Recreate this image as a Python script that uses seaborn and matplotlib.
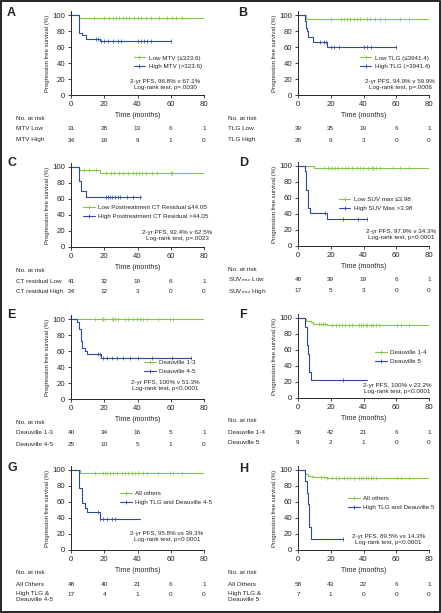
import numpy as np
import matplotlib
matplotlib.use('Agg')
import matplotlib.pyplot as plt
import seaborn as sns
from matplotlib.lines import Line2D
from matplotlib.patches import Rectangle

sns.set_style('ticks')
plt.rcParams['font.family'] = ['Liberation Sans', 'DejaVu Sans']
plt.rcParams['mathtext.fontset'] = 'custom'
plt.rcParams['mathtext.rm'] = 'Liberation Sans'

GREEN = '#80c846'
BLUE = '#2d4a9c'
SMALL = 4.5

risk_times = [0, 20, 40, 60, 80]

# A - MTV
mtv_low_t = [0, 5, 80]
mtv_low_s = [100, 96.8, 96.8]
mtv_low_cens = [14, 20, 23, 25, 27, 29, 31, 33, 35, 38, 40, 42, 45, 48, 53, 58, 61, 63, 67]
mtv_high_t = [0, 5, 6.4, 9, 17.5, 60]
mtv_high_s = [100, 77, 75, 70.6, 67.1, 67.1]
mtv_high_cens = [15, 16, 18, 20, 22, 25, 28, 30, 40, 42, 44, 46, 48, 60]
mtv_risk_low = [31, 28, 13, 6, 1]
mtv_risk_high = [34, 16, 9, 1, 0]

# B - TLG
tlg_low_t = [0, 5, 80]
tlg_low_s = [100, 94.9, 94.9]
tlg_low_cens = [20, 26, 28, 30, 32, 34, 36, 38, 42, 44, 47, 50, 53, 62, 68]
tlg_high_t = [0, 4.5, 5, 5.5, 6, 9, 18, 60]
tlg_high_s = [100, 92, 84, 80, 73, 66, 59.9, 59.9]
tlg_high_cens = [13.6, 15.6, 17.3, 20, 22, 25, 40, 42, 44.5, 60]
tlg_risk_low = [39, 35, 19, 6, 1]
tlg_risk_high = [26, 9, 3, 0, 0]

# C - CT residual
ct_low_t = [0, 5, 17.5, 80]
ct_low_s = [100, 96, 92.4, 92.4]
ct_low_cens = [8, 11, 15, 21, 24, 26, 29, 31, 34, 37, 39, 41, 43, 45, 49, 52, 60, 61]
ct_high_t = [0, 5, 6, 9, 42]
ct_high_s = [100, 83, 70, 62.5, 62.5]
ct_high_cens = [21, 22.5, 23.5, 24.5, 26.5, 28, 29.5, 33.5, 37.5, 41.5]
ct_risk_low = [41, 32, 19, 6, 1]
ct_risk_high = [24, 12, 3, 0, 0]

# D - SUVmax
suv_low_t = [0, 9.5, 80]
suv_low_s = [100, 97.9, 97.9]
suv_low_cens = [15.6, 18.6, 19.6, 20.6, 22.7, 24.7, 26.7, 28.7, 30.8, 32.8, 35.8, 37.8,
                39.9, 42.9, 44.9, 45.9, 47.9, 50, 58, 62, 68]
suv_high_t = [0, 4, 5, 6, 7.5, 18, 42]
suv_high_s = [100, 94, 70, 47, 41, 34.3, 34.3]
suv_high_cens = [16.6, 27.7, 36.8, 42]
suv_risk_low = [48, 39, 19, 6, 1]
suv_risk_high = [17, 5, 3, 0, 0]

# E - Deauville 1-3 vs 4-5
d13_t = [0, 80]
d13_s = [100, 100]
d13_cens = [14.4, 18.4, 19.4, 20.4, 24.4, 25.5, 26.5, 28.5, 32.5, 34.5, 37.5, 39.5, 41.5,
            43.5, 45.5, 52.5, 59.5, 61.5]
d45_t = [0, 3.8, 5, 5.8, 6.4, 8.4, 9.4, 18, 72]
d45_s = [100, 96, 88, 72, 64, 60, 56, 51.3, 51.3]
d45_cens = [16.4, 17.4, 19.4, 21.4, 24.4, 27.5, 31.5, 35.5, 40.5, 48.5, 60.5, 72]
d13_risk = [40, 34, 16, 5, 1]
d45_risk = [25, 10, 5, 1, 0]

# F - Deauville 1-4 vs 5
d14_t = [0, 4, 5, 8, 9, 18, 80]
d14_s = [100, 98.2, 96.4, 94.6, 92.8, 90.9, 90.9]
d14_cens = [13, 14, 15, 16.6, 21, 23, 25, 27, 29, 31, 33, 37.4, 38.4, 39.4, 41.4, 42.4,
            44.5, 45.5, 47.5, 49.5, 60.7, 62.7, 67.8]
d5_t = [0, 4.5, 5.3, 5.9, 6.5, 8.1, 42]
d5_s = [100, 89, 66, 55, 33, 22.2, 22.2]
d5_cens = [27.2]
d14_risk = [56, 42, 21, 6, 1]
d5_risk = [9, 2, 1, 0, 0]

# G - all others vs high TLG & Deauville 4-5
g_other_t = [0, 5.4, 80]
g_other_s = [100, 95.8, 95.8]
g_other_cens = [14.4, 19.4, 20.4, 21.4, 23.4, 25.5, 27.5, 30.5, 32.5, 34.5, 36.5, 38.5,
                40.5, 43.5, 45.5, 52.5, 59.5, 61.5, 66.5]
g_high_t = [0, 5, 6.4, 8.4, 9.4, 17.4, 41.5]
g_high_s = [100, 77, 58.8, 53, 47, 39.3, 39.3]
g_high_cens = [16.4, 17.4, 19.4, 21.4, 24.4, 26.5]
g_risk_other = [48, 40, 21, 6, 1]
g_risk_high = [17, 4, 1, 0, 0]

# H - all others vs high TLG & Deauville 5
h_other_t = [0, 4.5, 5.9, 9, 17, 80]
h_other_s = [100, 95, 93, 91.6, 89.5, 89.5]
h_other_cens = [14, 16, 17.5, 21, 23, 25, 28, 30, 32, 34, 37.5, 38.5, 39.5, 41.5, 43,
                44.5, 45.5, 47.5, 60.7, 62.7, 67.8]
h_high_t = [0, 4.5, 5.3, 5.9, 6.5, 7.9, 27.2]
h_high_s = [100, 86, 71, 57, 28.6, 14.3, 14.3]
h_high_cens = [27.2]
h_risk_other = [58, 43, 22, 6, 1]
h_risk_high = [7, 1, 0, 0, 0]

W, H = 441, 613
fig = plt.figure(figsize=(W / 100, H / 100), dpi=100)


def px_box(x0, bottom, w, h=84):
    return [x0 / W, 1 - bottom / H, w / W, h / H]


def step_value(t, s, x):
    i = np.searchsorted(t, x, side='right') - 1
    return np.asarray(s)[i]


def curve(ax, t, s, cens, color):
    sns.lineplot(x=t, y=s, drawstyle='steps-post', color=color, lw=0.8,
                 estimator=None, ax=ax)
    cy = [step_value(t, s, c) for c in cens]
    sns.scatterplot(x=cens, y=cy, marker='|', s=7, color=color, linewidth=0.5, ax=ax)


def panel(letter, col_x, width, bottom, low, high, labels, leg_xy, note, note_xy,
          risk_labels, risk_low, risk_high, letter_xy):
    ax = fig.add_axes(px_box(col_x, bottom, width))
    curve(ax, *low, GREEN)
    curve(ax, *high, BLUE)
    ax.set_xlim(0, 80)
    ax.set_ylim(0, 105)
    ax.set_xticks(risk_times)
    ax.set_yticks([0, 20, 40, 60, 80, 100])
    ax.tick_params(labelsize=5.6, length=2.5, width=0.6, pad=1.5)
    for sp in ['top', 'right']:
        ax.spines[sp].set_visible(False)
    for sp in ['left', 'bottom']:
        ax.spines[sp].set_linewidth(0.7)
    ax.set_ylabel('Progression free survival (%)', fontsize=4.3)
    ax.yaxis.set_label_coords(-21 / width, 0.5)
    ax.set_xlabel('Time (months)', fontsize=5)
    ax.xaxis.set_label_coords(0.5, -17 / 84)

    handles = [Line2D([], [], color=GREEN, lw=0.8, marker='|', ms=3, mew=0.6),
               Line2D([], [], color=BLUE, lw=0.8, marker='|', ms=3, mew=0.6)]
    ax.legend(handles, labels, loc='center left', bbox_to_anchor=leg_xy, frameon=False,
              fontsize=SMALL, handlelength=1.9, handletextpad=0.5, labelspacing=0.55,
              borderpad=0, borderaxespad=0)
    ax.text(note_xy[0], note_xy[1], note, transform=ax.transAxes, ha='center',
            va='center', fontsize=SMALL, linespacing=1.25, multialignment='center')

    fig.text(letter_xy[0] / W, 1 - letter_xy[1] / H, letter, fontsize=9,
             fontweight='bold', ha='left', va='center')

    lab_x = 16 if col_x < 200 else 228
    fig.text(lab_x / W, 1 - (bottom + 23) / H, 'No. at risk', fontsize=4.6,
             ha='left', va='center')
    for k, (lab, vals) in enumerate(zip(risk_labels, [risk_low, risk_high])):
        y = bottom + 34 + 11 * k
        if '\n' in lab:
            fig.text(lab_x / W, 1 - (y - 3.5) / H, lab, fontsize=4.6, ha='left',
                     va='top', linespacing=1.05)
        else:
            fig.text(lab_x / W, 1 - y / H, lab, fontsize=4.6, ha='left', va='center')
        for t, v in zip(risk_times, vals):
            fig.text((col_x + t / 80 * width) / W, 1 - y / H, str(v), fontsize=4.6,
                     ha='center', va='center')
    return ax


LX, LW = 71, 133
RX, RW = 298, 131

panel('A', LX, LW, 95, (mtv_low_t, mtv_low_s, mtv_low_cens),
      (mtv_high_t, mtv_high_s, mtv_high_cens),
      ['Low MTV (≤323.6)', 'High MTV (>323.6)'], (0.47, 0.39),
      '2-yr PFS, 96.8% v 67.1%\nLog-rank test, p=.0030', (0.71, 0.125),
      ['MTV Low', 'MTV High'], mtv_risk_low, mtv_risk_high, (7, 13))

panel('B', RX, RW, 95, (tlg_low_t, tlg_low_s, tlg_low_cens),
      (tlg_high_t, tlg_high_s, tlg_high_cens),
      ['Low TLG (≤3941.4)', 'High TLG (>3941.4)'], (0.47, 0.39),
      '2-yr PFS, 94.9% v 59.9%\nLog-rank test, p=.0006', (0.78, 0.13),
      ['TLG Low', 'TLG High'], tlg_risk_low, tlg_risk_high, (238, 13))

panel('C', LX, LW, 247, (ct_low_t, ct_low_s, ct_low_cens),
      (ct_high_t, ct_high_s, ct_high_cens),
      ['Low Posttreatment CT Residual ≤44.05', 'High Posttreatment CT Residual >44.05'],
      (0.09, 0.42),
      '2-yr PFS, 92.4% v 62.5%\nLog-rank test, p=.0023', (0.80, 0.14),
      ['CT residual Low', 'CT residual High'], ct_risk_low, ct_risk_high, (7, 163))

panel('D', RX, RW, 246, (suv_low_t, suv_low_s, suv_low_cens),
      (suv_high_t, suv_high_s, suv_high_cens),
      ['Low SUV max ≤3.98', 'High SUV Max >3.98'], (0.31, 0.50),
      '2-yr PFS, 97.9% v 34.3%\nLog-rank test, p<0.0001', (0.79, 0.14),
      [r'SUV$_{\mathrm{max}}$ Low', r'SUV$_{\mathrm{max}}$ High'],
      suv_risk_low, suv_risk_high, (239, 163))

panel('E', LX, LW, 399, (d13_t, d13_s, d13_cens), (d45_t, d45_s, d45_cens),
      ['Deauville 1-3', 'Deauville 4-5'], (0.55, 0.38),
      '2-yr PFS, 100% v 51.3%\nLog-rank test, p<0.0001', (0.71, 0.155),
      ['Deauville 1-3', 'Deauville 4-5'], d13_risk, d45_risk, (7, 315))

panel('F', RX, RW, 398, (d14_t, d14_s, d14_cens), (d5_t, d5_s, d5_cens),
      ['Deauville 1-4', 'Deauville 5'], (0.59, 0.49),
      '2-yr PFS, 100% v 22.2%\nLog-rank test, p<0.0001', (0.76, 0.11),
      ['Deauville 1-4', 'Deauville 5'], d14_risk, d5_risk, (239, 315))

panel('G', LX, LW, 550, (g_other_t, g_other_s, g_other_cens),
      (g_high_t, g_high_s, g_high_cens),
      ['All others', 'High TLG and Deauville 4-5'], (0.37, 0.62),
      '2-yr PFS, 95.8% vs 39.3%\nLog-rank test, p<0.0001', (0.72, 0.155),
      ['All Others', 'High TLG &\nDeauville 4-5'], g_risk_other, g_risk_high, (7, 468))

panel('H', RX, RW, 550, (h_other_t, h_other_s, h_other_cens),
      (h_high_t, h_high_s, h_high_cens),
      ['All others', 'High TLG and Deauville 5'], (0.38, 0.56),
      '2-yr PFS, 89.5% vs 14.3%\nLog-rank test, p<0.0001', (0.69, 0.125),
      ['All Others', 'High TLG &\nDeauville 5'], h_risk_other, h_risk_high, (239, 469))

fig.patches.append(Rectangle((0.7 / W, 0.7 / H), 1 - 1.4 / W, 1 - 1.4 / H,
                             transform=fig.transFigure, fill=False, lw=1.2,
                             ec='black'))

fig.savefig('out.png', dpi=100)
